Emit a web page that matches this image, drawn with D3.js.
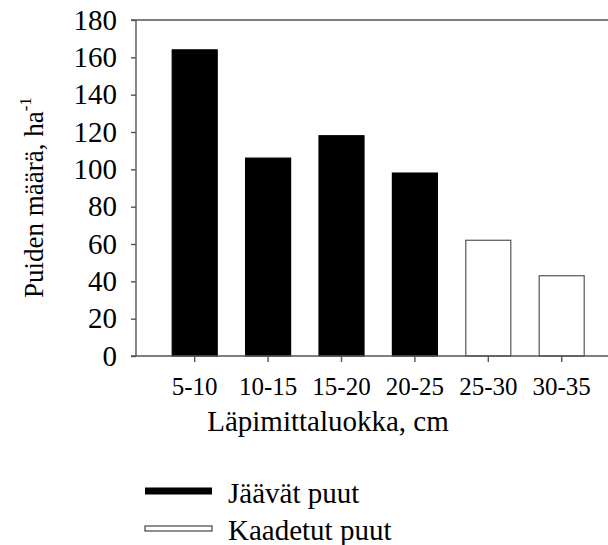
<!DOCTYPE html>
<meta charset="utf-8">
<style type="text/css">
body {
  margin: 0;
  background: #fff;
  font-family: "Liberation Serif", "Times New Roman", serif;
}

.axis text {
  font-size: 29px;
  fill: #000;
  font-family: "Liberation Serif", serif;
}

.axis path,
.axis line {
  fill: none;
  stroke: #555;
  stroke-width: 1.4px;
}

.label {
  font-size: 29px;
}
</style>
<body>
</body>

<script src="https://cdn.jsdelivr.net/npm/d3@7"></script>
<script>
var classes = ["5-10", "10-15", "15-20", "20-25", "25-30", "30-35"];
var counts = [164, 106, 118, 98, 62, 43];
var groups = ["Jäävät puut", "Jäävät puut", "Jäävät puut", "Jäävät puut", "Kaadetut puut", "Kaadetut puut"];
var yTicks = [0, 20, 40, 60, 80, 100, 120, 140, 160, 180];
var legendNames = ["Jäävät puut", "Kaadetut puut"];

var fillFor = { "Jäävät puut": "#000", "Kaadetut puut": "#fff" };

var width = 608, height = 545;
var plotLeft = 136, plotTop = 20, plotBottom = 356;

var svg = d3.select("body")
  .append("svg")
    .attr("width", width)
    .attr("height", height);

var xscale = d3.scaleBand()
  .domain(classes)
  .range([158, 598.4])
  .paddingInner(0.387)
  .paddingOuter(0.1935);

var yscale = d3.scaleLinear()
  .domain([0, 180])
  .range([plotBottom, plotTop]);

// top frame line
svg.append("line")
  .attr("x1", plotLeft - 5)
  .attr("x2", width)
  .attr("y1", yscale(180))
  .attr("y2", yscale(180))
  .style("stroke", "#555")
  .style("stroke-width", "1.4px");

var bars = d3.range(classes.length);

svg.selectAll("rect.bar")
  .data(bars)
  .enter().append("rect")
  .attr("class", "bar")
  .attr("x", function(i) { return xscale(classes[i]); })
  .attr("width", xscale.bandwidth())
  .attr("y", function(i) { return yscale(counts[i]); })
  .attr("height", function(i) { return yscale(0) - yscale(counts[i]); })
  .style("fill", function(i) { return fillFor[groups[i]]; })
  .style("stroke", function(i) { return groups[i] == "Kaadetut puut" ? "#555" : "#000"; })
  .style("stroke-width", "1.2px");

var yAxis = d3.axisLeft()
  .scale(yscale)
  .tickValues(yTicks)
  .tickSize(5)
  .tickPadding(14);

svg.append("g")
  .attr("class", "y axis")
  .attr("transform", "translate(" + plotLeft + ",0)")
  .call(yAxis)
  .call(function(g) { g.select(".domain").remove(); })
  .append("line")
    .attr("x1", 0).attr("x2", 0)
    .attr("y1", yscale(0)).attr("y2", yscale(180))
    .style("stroke", "#555")
    .style("stroke-width", "1.4px");

var xAxis = d3.axisBottom()
  .scale(xscale)
  .tickSize(6)
  .tickPadding(15);

var xg = svg.append("g")
  .attr("class", "x axis")
  .attr("transform", "translate(0," + plotBottom + ")")
  .call(xAxis);

xg.select(".domain").remove();
xg.append("line")
  .attr("x1", plotLeft - 5)
  .attr("x2", width)
  .style("stroke", "#555")
  .style("stroke-width", "1.4px");
xg.selectAll(".tick text").style("font-size", "25px");

// axis titles
svg.append("text")
  .attr("class", "label")
  .attr("x", 328)
  .attr("y", 431)
  .attr("text-anchor", "middle")
  .text("Läpimittaluokka, cm");

var ytitle = svg.append("text")
  .attr("transform", "translate(43,298) rotate(-90)")
  .attr("text-anchor", "start")
  .style("font-size", "27px");
ytitle.append("tspan").text("Puiden määrä, ha");
ytitle.append("tspan")
  .attr("dy", -12)
  .style("font-size", "17px")
  .text("-1");

// legend
var legend = svg.selectAll("g.legend")
  .data(legendNames)
  .enter().append("g")
  .attr("class", "legend")
  .attr("transform", function(d, i) { return "translate(145," + (491 + i * 37.5) + ")"; });

legend.append("rect")
  .attr("x", 0)
  .attr("y", function(d, i) { return i == 0 ? -3.5 : -2.5; })
  .attr("width", 67)
  .attr("height", function(d, i) { return i == 0 ? 7 : 5; })
  .style("fill", function(d) { return fillFor[d]; })
  .style("stroke", function(d, i) { return i == 0 ? "none" : "#444"; })
  .style("stroke-width", "1.2px");

legend.append("text")
  .attr("class", "label")
  .attr("x", 83)
  .attr("y", 11.5)
  .text(function(d) { return d; });
</script>
